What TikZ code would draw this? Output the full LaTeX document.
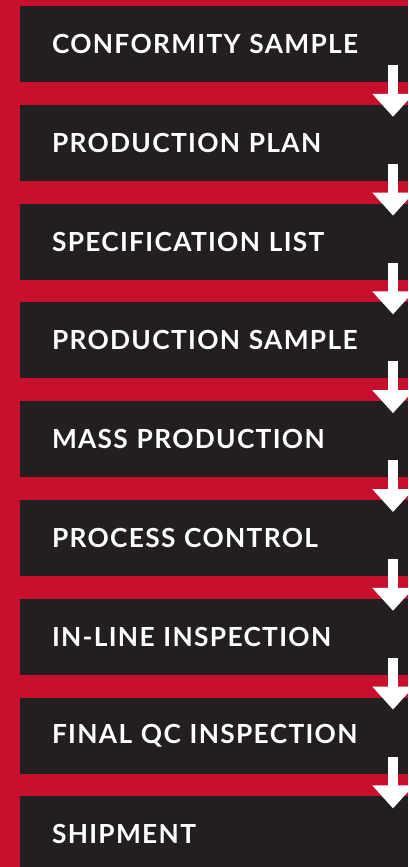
\documentclass[tikz,border=0pt]{standalone}
\usepackage{fontspec}
\setmainfont{Lato}
\newfontfamily\stagefont[LetterSpace=5]{Lato}
\usetikzlibrary{positioning,arrows.meta}
\definecolor{qcred}{HTML}{C8102E}
\definecolor{qcdark}{HTML}{231F20}
\tikzset{stage/.style={rectangle,fill=qcdark,text=white,font=\stagefont\bfseries\fontsize{26.3}{28}\selectfont,
    minimum height=76pt,text width=324pt,inner xsep=32pt,inner ysep=0pt,outer sep=0pt,align=left},
  flow/.style={draw=white,line width=10pt,-{Triangle[width=40pt,length=23pt]}},}

\begin{document}
\begin{tikzpicture}[x=1pt,y=1pt]
   \clip (0,0) rectangle (408,-867);
   \fill[qcred] (0,0) rectangle (408,-867);

   \node[stage,anchor=north west] (s1) at (20,-6) {CONFORMITY SAMPLE};
   \node[stage] (s2) [below = 22.8pt of s1] {PRODUCTION PLAN};
   \node[stage] (s3) [below = 22.8pt of s2] {SPECIFICATION LIST};
   \node[stage] (s4) [below = 22.8pt of s3] {PRODUCTION SAMPLE};
   \node[stage] (s5) [below = 22.8pt of s4] {MASS PRODUCTION};
   \node[stage] (s6) [below = 22.8pt of s5] {PROCESS CONTROL};
   \node[stage] (s7) [below = 22.8pt of s6] {IN-LINE INSPECTION};
   \node[stage] (s8) [below = 22.8pt of s7] {FINAL QC INSPECTION};
   \node[stage] (s9) [below = 22.8pt of s8] {SHIPMENT};

   \foreach \a/\b in {s1/s2,s2/s3,s3/s4,s4/s5,s5/s6,s6/s7,s7/s8,s8/s9}
     \draw[flow] ([xshift=-15pt,yshift=17pt]\a.south east) -- ([xshift=-15pt,yshift=-12pt]\b.north east);
\end{tikzpicture}
\end{document}
